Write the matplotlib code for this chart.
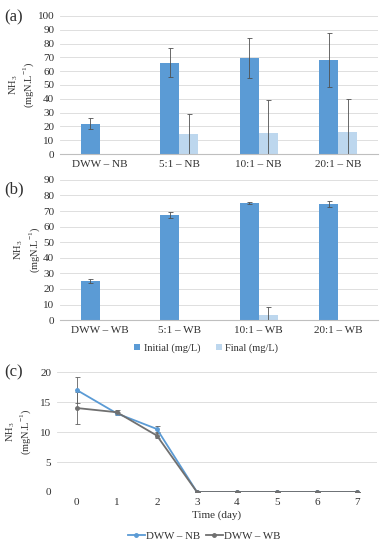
import matplotlib.pyplot as plt
import numpy as np

plt.rcParams['font.family'] = ['Liberation Serif', 'DejaVu Serif']
plt.rcParams['mathtext.fontset'] = 'custom'
plt.rcParams['mathtext.rm'] = 'Liberation Serif'

# (a) no biochar
cats_a = ['DWW – NB', '5:1 – NB', '10:1 – NB', '20:1 – NB']
init_a = [22, 66, 69.5, 68]
init_a_err = [4, 10.5, 14.7, 19.5]
final_a = [0, 14.5, 15.5, 16]
final_a_err = [0, 14.5, 23.5, 24]

# (b) with biochar
cats_b = ['DWW – WB', '5:1 – WB', '10:1 – WB', '20:1 – WB']
init_b = [25, 67.5, 75, 74.5]
init_b_err = [1.5, 2, 0.5, 2]
final_b = [0, 0, 3, 0]
final_b_err = [0, 0, 5.5, 0]

# (c) time series
days = [0, 1, 2, 3, 4, 5, 6, 7]
nb = [17, 13.1, 10.5, 0, 0, 0, 0, 0]
nb_err = [2.2, 0.2, 0.5, 0, 0, 0, 0, 0]
wb = [14, 13.3, 9.4, 0, 0, 0, 0, 0]
wb_err = [2.6, 0.3, 0.4, 0, 0, 0, 0, 0]

c_init = '#5B9BD5'
c_final = '#BDD7EE'
c_nb = '#5B9BD5'
c_wb = '#707070'
grid_c = '#D9D9D9'
txt_c = '#303030'

ylab = 'NH$_3$\n(mgN.L$^{-1}$)'

fig = plt.figure(figsize=(3.84, 5.5), dpi=100)


def style(ax):
    for s in ['top', 'right', 'left']:
        ax.spines[s].set_visible(False)
    ax.spines['bottom'].set_color('#BFBFBF')
    ax.tick_params(length=0, labelsize=8, colors=txt_c, pad=4)
    ax.yaxis.grid(True, color=grid_c, lw=0.6)
    ax.set_axisbelow(True)


def bars(ax, cats, ini, ini_e, fin, fin_e, top, step):
    x = np.arange(len(cats))
    w = 0.24
    ax.bar(x - w / 2, ini, w, color=c_init, label='Initial (mg/L)')
    ax.bar(x + w / 2, fin, w, color=c_final, label='Final (mg/L)')
    ax.errorbar(x - w / 2, ini, yerr=ini_e, fmt='none', ecolor='#505050',
                elinewidth=0.6, capsize=1.8, capthick=0.6)
    fe = np.array(fin_e)
    fv = np.array(fin)
    lo = np.minimum(fe, fv)
    m = fe > 0
    ax.errorbar((x + w / 2)[m], fv[m], yerr=[lo[m], fe[m]], fmt='none',
                ecolor='#505050', elinewidth=0.6, capsize=1.8, capthick=0.6)
    ax.set_xlim(-0.5, len(cats) - 0.5)
    ax.set_ylim(0, top)
    ax.set_yticks(np.arange(0, top + 1, step))
    ax.set_xticks(x)
    ax.set_xticklabels(cats, fontsize=7.8)
    ax.set_ylabel(ylab, fontsize=7.5, labelpad=1, color=txt_c)
    style(ax)


ax1 = fig.add_axes([0.156, 0.72, 0.828, 0.251])
bars(ax1, cats_a, init_a, init_a_err, final_a, final_a_err, 100, 10)
fig.text(0.01, 0.962, '(a)', fontsize=12, color=txt_c)

ax2 = fig.add_axes([0.156, 0.418, 0.828, 0.255])
bars(ax2, cats_b, init_b, init_b_err, final_b, final_b_err, 90, 10)
fig.text(0.01, 0.648, '(b)', fontsize=12, color=txt_c)
ax2.legend(loc='upper center', bbox_to_anchor=(0.46, -0.1), ncol=2,
           frameon=False, fontsize=7.5, handlelength=0.6, handleheight=0.6,
           columnspacing=1.5, handletextpad=0.3, labelcolor=txt_c)

ax3 = fig.add_axes([0.148, 0.1055, 0.834, 0.218])
ax3.errorbar(days, nb, yerr=nb_err, fmt='none', ecolor='#606060',
             elinewidth=0.6, capsize=1.8, capthick=0.6)
ax3.errorbar(days, wb, yerr=wb_err, fmt='none', ecolor='#606060',
             elinewidth=0.6, capsize=1.8, capthick=0.6)
ax3.plot(days, nb, color=c_nb, lw=1.3, marker='o', ms=2.5, label='DWW – NB')
ax3.plot(days, wb, color=c_wb, lw=1.3, marker='o', ms=2.5, label='DWW – WB')
ax3.set_xlim(-0.5, 7.5)
ax3.set_ylim(0, 20)
ax3.set_yticks([0, 5, 10, 15, 20])
ax3.set_xticks(days)
ax3.set_xlabel('Time (day)', fontsize=8, color=txt_c, labelpad=3)
ax3.set_ylabel(ylab, fontsize=7.5, labelpad=5, color=txt_c)
style(ax3)
ax3.spines['bottom'].set_visible(False)
ax3.axhline(0, color=grid_c, lw=0.6, zorder=0)
ax3.legend(loc='upper center', bbox_to_anchor=(0.46, -0.25), ncol=2,
           frameon=False, fontsize=7.8, handlelength=1.5, columnspacing=0.6,
           handletextpad=0.1, labelcolor=txt_c)
fig.text(0.01, 0.315, '(c)', fontsize=12, color=txt_c)

fig.savefig('out.png', dpi=100)
